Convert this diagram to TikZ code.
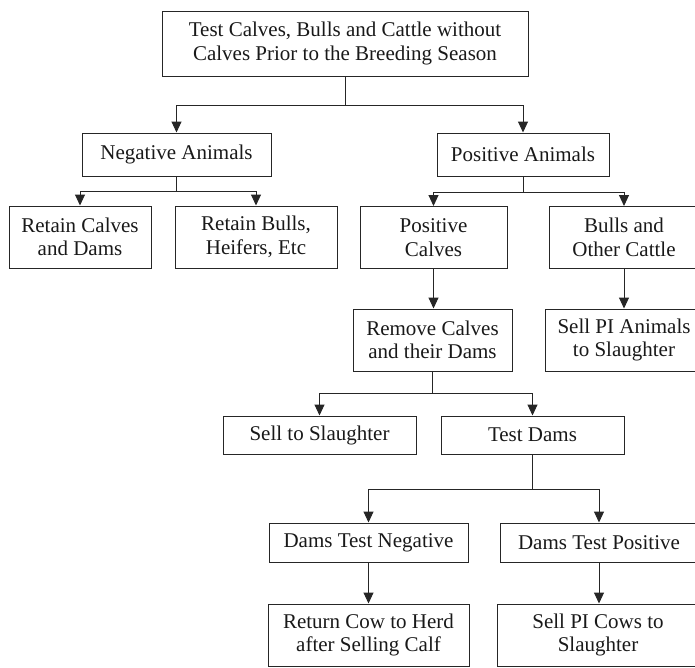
\documentclass[tikz,border=0pt]{standalone}
\usepackage{fontspec}
\setmainfont{Liberation Serif}
\usetikzlibrary{arrows.meta}
\tikzset{
  box/.style={draw=black!85, line width=1pt, align=center, inner sep=0pt,
    font=\fontsize{21}{23.5}\selectfont, text=black!90},
  link/.style={draw=black!85, line width=1pt},
  arr/.style={link, -{Triangle[length=11pt,width=10pt]}}
}
\begin{document}
\begin{tikzpicture}[x=1pt,y=-1pt]
\useasboundingbox (0,0) rectangle (695,667);
\clip (0,0) rectangle (695,667);
\node[box, minimum width=366pt, minimum height=65pt] (top) at (345,43.5)
  {Test Calves, Bulls and Cattle without\\Calves Prior to the Breeding Season};
\node[box, minimum width=189pt, minimum height=43pt] (neg) at (176.5,154.5) {Negative Animals};
\node[box, minimum width=172pt, minimum height=43pt] (pos) at (523,154.5) {Positive Animals};
\node[box, minimum width=142pt, minimum height=62pt] (rc) at (80,237) {Retain Calves\\and Dams};
\node[box, minimum width=162pt, minimum height=62pt] (rb) at (256,237) {Retain Bulls,\\Heifers, Etc};
\node[box, minimum width=147pt, minimum height=62pt] (pc) at (433.5,237.5) {Positive\\Calves};
\node[box, minimum width=150pt, minimum height=62pt] (bo) at (624,237.5) {Bulls and\\Other Cattle};
\node[box, minimum width=159pt, minimum height=62pt] (rm) at (432.5,340) {Remove Calves\\and their Dams};
\node[box, minimum width=158pt, minimum height=62pt] (sp) at (624,340) {Sell PI Animals\\to Slaughter};
\node[box, minimum width=193pt, minimum height=38pt] (ss) at (319.5,435) {Sell to Slaughter};
\node[box, minimum width=183pt, minimum height=38pt] (td) at (532.5,435) {Test Dams};
\node[box, minimum width=199pt, minimum height=39pt] (dn) at (368.5,542.5) {Dams Test Negative};
\node[box, minimum width=198pt, minimum height=39pt] (dp) at (599,542.5) {Dams Test Positive};
\node[box, minimum width=201pt, minimum height=62pt] (rw) at (368.5,635) {Return Cow to Herd\\after Selling Calf};
\node[box, minimum width=202pt, minimum height=62pt] (sc) at (598,635) {Sell PI Cows to\\Slaughter};
% connectors
\coordinate (b1) at (345,105);
\draw[arr] (top.south) -- (b1) -| (neg.north);
\draw[arr] (b1) -| (pos.north);
\coordinate (b2) at (176.5,191);
\draw[arr] (neg.south) -- (b2) -| (rc.north);
\draw[arr] (b2) -| (rb.north);
\coordinate (b3) at (523,192);
\draw[arr] (pos.south) -- (b3) -| (pc.north);
\draw[arr] (b3) -| (bo.north);
\draw[arr] (pc.south) -- (pc.south |- rm.north);
\draw[arr] (bo.south) -- (sp.north);
\coordinate (b4) at (432.5,393);
\draw[arr] (rm.south) -- (b4) -| (ss.north);
\draw[arr] (b4) -| (td.north);
\coordinate (b5) at (532.5,489);
\draw[arr] (td.south) -- (b5) -| (dn.north);
\draw[arr] (b5) -| (dp.north);
\draw[arr] (dn.south) -- (rw.north);
\draw[arr] (dp.south) -- (dp.south |- sc.north);
\end{tikzpicture}
\end{document}
